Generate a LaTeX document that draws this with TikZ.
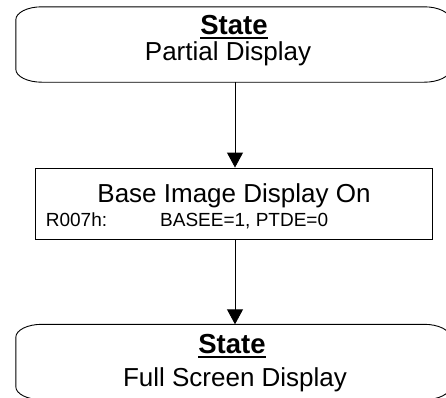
\documentclass[tikz,border=0pt]{standalone}
\usepackage{fontspec}
\setmainfont{Liberation Sans}
\usetikzlibrary{arrows.meta}
\begin{document}
\begin{tikzpicture}[x=1pt,y=1pt,
  boxline/.style={draw=black,line width=0.9pt},
  bigtext/.style={inner sep=0pt,anchor=base,font=\fontsize{26}{26}\selectfont},
  headtext/.style={inner sep=0pt,anchor=base,font=\fontsize{27.5}{27.5}\selectfont\bfseries},
  uline/.style={draw=black,line width=1.8pt},
  smalltext/.style={inner sep=0pt,anchor=base west,font=\fontsize{19}{19}\selectfont},
  stateshape/.style={inner sep=0pt,minimum width=434pt,minimum height=75pt},
  stepbox/.style={boxline,rectangle,inner sep=0pt,minimum width=396.5pt,minimum height=71pt},
  conn/.style={draw=black,line width=0.9pt,-{Triangle[width=16pt,length=15pt]}}
]
\useasboundingbox (0,0) rectangle (446,-397);
\clip (0,0) rectangle (446,-397);
% state box shapes
\node[stateshape] (s1) at (233,-44.5) {};
\node[stepbox] (m) at (233.75,-203.5) {};
\node[stateshape] (s2) at (233,-362) {};
\foreach \n in {s1,s2}{
  \draw[boxline] ([xshift=26pt]\n.north west) -- ([xshift=-26pt]\n.north east)
    arc[start angle=90,end angle=0,x radius=26,y radius=13]
    -- ([yshift=13pt]\n.south east)
    arc[start angle=0,end angle=-90,x radius=26,y radius=13]
    -- ([xshift=26pt]\n.south west)
    arc[start angle=270,end angle=180,x radius=26,y radius=13]
    -- ([yshift=-13pt]\n.north west)
    arc[start angle=180,end angle=90,x radius=26,y radius=13] -- cycle;
}
% texts
\node[headtext] (t1a) at (234,-34.5) {State};
\draw[uline] ([yshift=-3.2pt]t1a.base west) -- ([yshift=-3.2pt]t1a.base east);
\node[bigtext] (t1b) at (228,-60.7) {Partial Display};
\node[bigtext] (t2a) at (234,-202.7) {Base Image Display On};
\node[smalltext] (t2b) at (45.7,-226.7) {R007h:};
\node[smalltext] (t2c) at (160,-226.7) {BASEE=1, PTDE=0};
\node[headtext] (t3a) at (232,-353.5) {State};
\draw[uline] ([yshift=-3.2pt]t3a.base west) -- ([yshift=-3.2pt]t3a.base east);
\node[bigtext] (t3b) at (235,-386) {Full Screen Display};
% connectors
\draw[conn] (s1.south -| m.north) ++(1.25,0) coordinate (c1) -- (c1 |- m.north);
\draw[conn] (m.south) ++(1.25,0) coordinate (c2) -- (c2 |- s2.north);
\end{tikzpicture}
\end{document}
